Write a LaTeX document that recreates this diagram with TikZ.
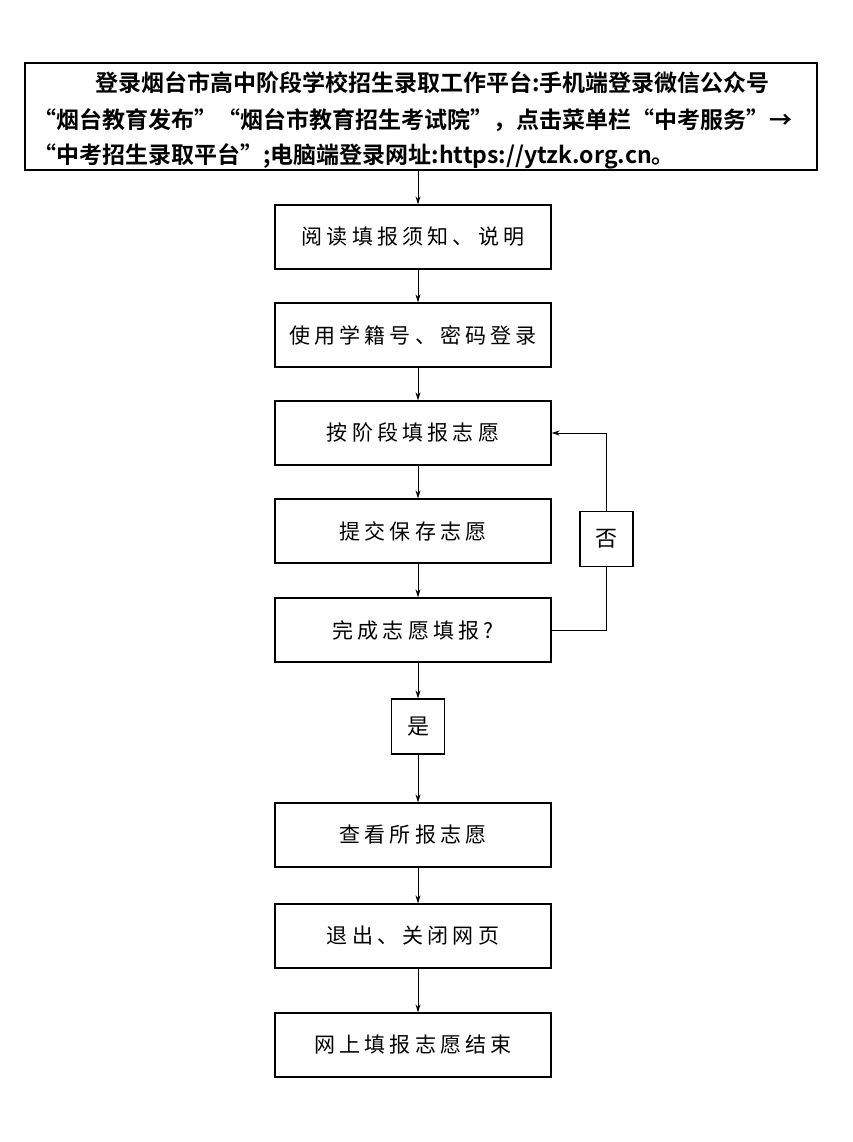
\documentclass[tikz,border=0pt]{standalone}
\usepackage{fontspec}
\newfontfamily\cjk{Noto Sans CJK SC}
\newfontfamily\cjksp[LetterSpace=20]{Noto Sans CJK SC}
\newfontfamily\cjkb{Noto Sans CJK SC Bold}
\usetikzlibrary{arrows.meta}
\begin{document}
\begin{tikzpicture}[x=1pt,y=-1pt,
  stepbox/.style={draw,line width=1.2pt,minimum width=276pt,minimum height=64pt,inner sep=0pt,font=\cjksp\fontsize{21}{24}\selectfont},
  tagbox/.style={draw,line width=1.2pt,minimum width=53pt,minimum height=55pt,inner sep=0pt,font=\cjk\fontsize{22}{24}\selectfont},
  toptext/.style={anchor=west,inner sep=0pt,font=\cjkb\fontsize{23}{24}\selectfont},
  conn/.style={line width=1pt,-{Stealth[length=8pt,width=5pt]}},
  plain/.style={line width=1pt}]
\useasboundingbox (0,0) rectangle (853,1142);
\node[draw,line width=1.2pt,minimum width=792pt,minimum height=107pt,inner sep=0pt] (top) at (421,116.5) {};
\node[toptext] (t1) at (95,83) {登录烟台市高中阶段学校招生录取工作平台:手机端登录微信公众号};
\node[toptext] (t2) at (33,120) {“烟台教育发布”“烟台市教育招生考试院”，点击菜单栏“中考服务”→};
\node[toptext] (t3) at (33,156) {“中考招生录取平台”;电脑端登录网址:https://ytzk.org.cn。};
\node[stepbox] (b1) at (413,237) {阅读填报须知、说明};
\node[stepbox] (b2) at (413,335) {使用学籍号、密码登录};
\node[stepbox] (b3) at (413,433) {按阶段填报志愿};
\node[stepbox] (b4) at (413,531) {提交保存志愿};
\node[stepbox] (b5) at (413,630) {完成志愿填报?};
\node[stepbox] (b6) at (413,835) {查看所报志愿};
\node[stepbox] (b7) at (413,936) {退出、关闭网页};
\node[stepbox] (b8) at (413,1045) {网上填报志愿结束};
\node[tagbox] (yes) at (418,726.5) {是};
\node[tagbox] (no) at (606.5,539) {否};
\draw[conn] (top.south-|418,0) -- (b1.north-|418,0);
\draw[conn] (b1.south-|418,0) -- (b2.north-|418,0);
\draw[conn] (b2.south-|418,0) -- (b3.north-|418,0);
\draw[conn] (b3.south-|418,0) -- (b4.north-|418,0);
\draw[conn] (b4.south-|418,0) -- (b5.north-|418,0);
\draw[conn] (b5.south-|yes) -- (yes.north);
\draw[conn] (yes.south) -- (b6.north-|yes);
\draw[conn] (b6.south-|418,0) -- (b7.north-|418,0);
\draw[conn] (b7.south-|418,0) -- (b8.north-|418,0);
\draw[plain] (b5.east) -- (b5.east-|no) -- (no.south);
\draw[conn] (no.north) -- (no.north|-b3.east) -- (b3.east);
\end{tikzpicture}
\end{document}
